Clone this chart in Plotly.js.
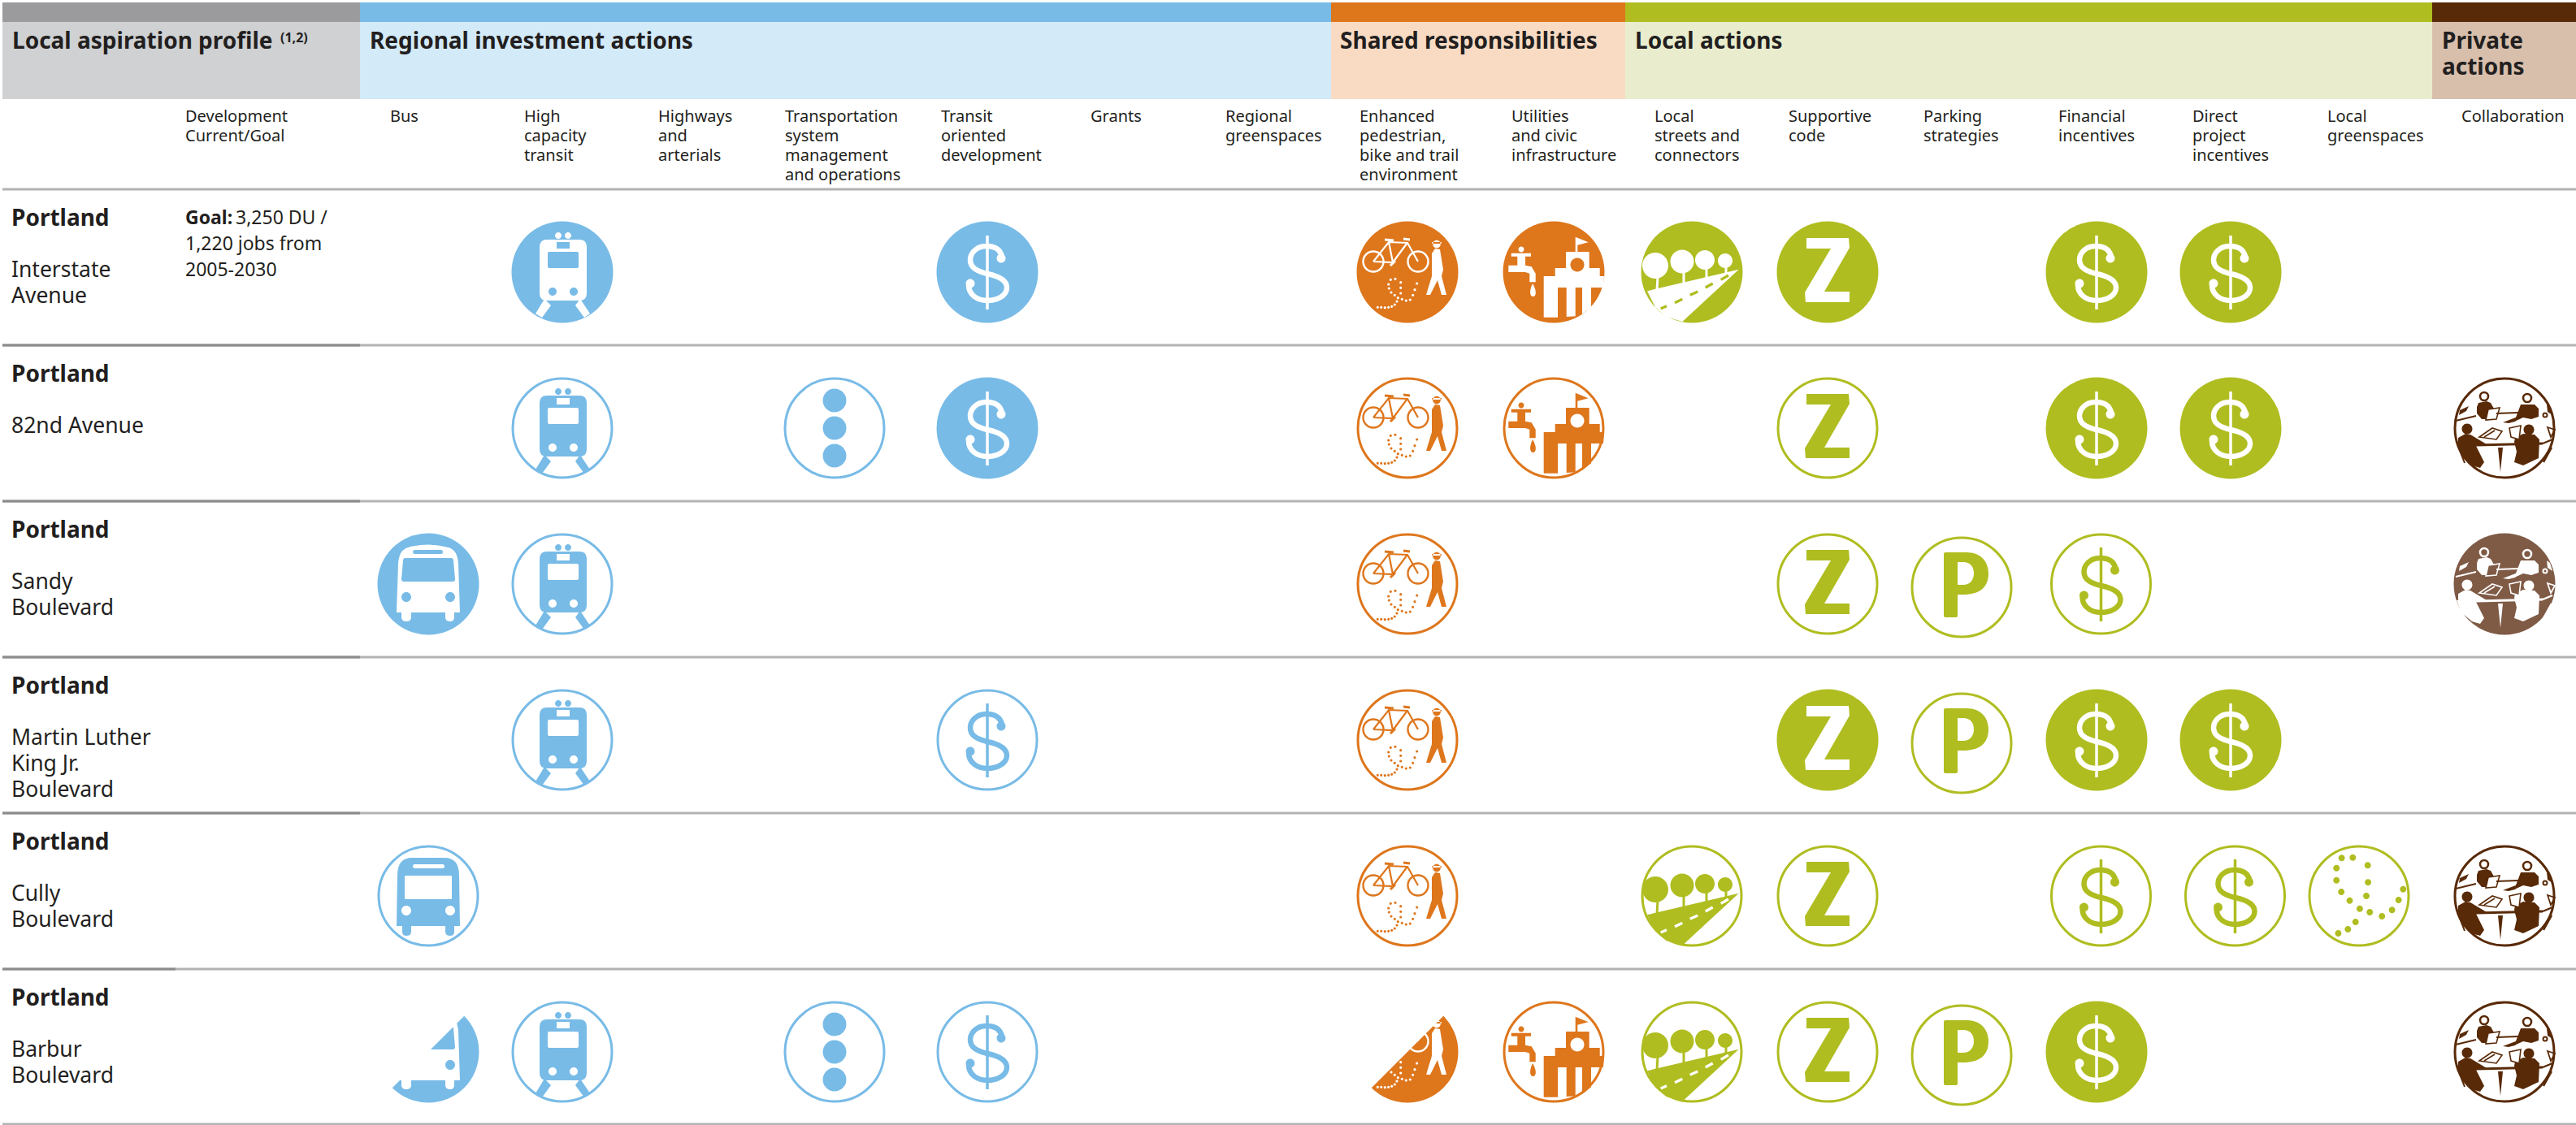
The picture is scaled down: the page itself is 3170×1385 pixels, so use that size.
<!DOCTYPE html>
<html><head><meta charset="utf-8">
<script src="https://cdn.plot.ly/plotly-3.0.1.min.js"></script>
<style>html,body{margin:0;padding:0;background:#fff}#c{width:3170px;height:1385px}</style>
</head><body><div id="c"></div>
<script>
// ---------- DATA ----------
const sectionTitles = [["Local aspiration profile"],["Regional investment actions"],["Shared responsibilities"],["Local actions"],["Private","actions"]];
const footnoteMark = "(1,2)";
const profileLabel = ["Development","Current/Goal"];
const actionLabels = [["Bus"],["High","capacity","transit"],["Highways","and","arterials"],["Transportation","system","management","and operations"],["Transit","oriented","development"],["Grants"],["Regional","greenspaces"],["Enhanced","pedestrian,","bike and trail","environment"],["Utilities","and civic","infrastructure"],["Local","streets and","connectors"],["Supportive","code"],["Parking","strategies"],["Financial","incentives"],["Direct","project","incentives"],["Local","greenspaces"],["Collaboration"]];
const cityNames = ["Portland","Portland","Portland","Portland","Portland","Portland"];
const corridorNames = [["Interstate","Avenue"],["82nd Avenue"],["Sandy","Boulevard"],["Martin Luther","King Jr.","Boulevard"],["Cully","Boulevard"],["Barbur","Boulevard"]];
const goalLead = "Goal:";
const goalLines = ["3,250 DU /","1,220 jobs from","2005-2030"];
// action status per corridor: 0 none, 1 outline, 2 solid, 3 part solid, 4 muted solid
const interstateAvenue = [0,2,0,0,2,0,0,2,2,2,2,0,2,2,0,0];
const avenue82nd       = [0,1,0,1,2,0,0,1,1,0,1,0,2,2,0,1];
const sandyBoulevard   = [2,1,0,0,0,0,0,1,0,0,1,1,1,0,0,4];
const mlkBoulevard     = [0,1,0,0,1,0,0,1,0,0,2,1,2,2,0,0];
const cullyBoulevard   = [1,0,0,0,0,0,0,1,0,1,1,0,1,1,1,1];
const barburBoulevard  = [3,1,0,1,1,0,0,3,1,1,1,1,2,0,0,1];
const statusRows = [interstateAvenue,avenue82nd,sandyBoulevard,mlkBoulevard,cullyBoulevard,barburBoulevard];

// ---------- LAYOUT / STYLE ----------
const W=3170,H=1385,INK="#231f20";
const sectionEdges=[3,443,1638,2000,2993,3170];
const sectionDark=["#9b9b9e","#78bbe7","#de761c","#afbd20","#592a08"];
const sectionLight=["#cfd1d3","#d3eaf9","#f9dbc3","#e9edcd","#d8bfac"];
const sectionText=[15,455,1649,2012,3005];
const actionTextX=[480,645,810,966,1158,1342,1508,1673,1860,2036,2201,2367,2533,2698,2864,3029];
const iconX=[527,692,858,1027,1215,1380,1545,1732,1912,2082,2249,2414,2580,2745,2903,3082];
const iconY=[335,527,719,911,1103,1295];
const rowTop=[233,425,617,809,1001,1193,1384];
const darkRuleEnd=[0,443,443,443,443,216,0];
const columnFamily=[1,1,1,1,1,1,1,2,2,3,3,3,3,3,3,4];
const glyphNames=["bus","train",null,"dots","dollar",null,null,"ped","util","streets","z","p","dollar","dollar","greens","collab"];

// ---------- GLYPH HELPERS (unit-cell drawings, px around icon centre) ----------
const circ=(x,y,r)=>{const k=r*.5523;return `M${x-r} ${y}C${x-r} ${y-k} ${x-k} ${y-r} ${x} ${y-r}C${x+k} ${y-r} ${x+r} ${y-k} ${x+r} ${y}C${x+r} ${y+k} ${x+k} ${y+r} ${x} ${y+r}C${x-k} ${y+r} ${x-r} ${y+k} ${x-r} ${y}Z`;};
const rr=(a,b,c,d,r)=>`M${a+r} ${b}L${c-r} ${b}Q${c} ${b} ${c} ${b+r}L${c} ${d-r}Q${c} ${d} ${c-r} ${d}L${a+r} ${d}Q${a} ${d} ${a} ${d-r}L${a} ${b+r}Q${a} ${b} ${a+r} ${b}Z`;
const poly=p=>"M"+p.map(q=>q.join(" ")).join("L")+"Z";
const line=p=>"M"+p.map(q=>q.join(" ")).join("L");
const dots=(p,r)=>p.map(q=>circ(q[0],q[1],r)).join("");
const fromPx=(p,cx,cy,sx,sy)=>p.map(q=>[+((q[0]-cx)/sx).toFixed(1),+((q[1]-cy)/sy).toFixed(1)]);
const F=(role,d)=>({role,d});               // fill
const S=(role,d,w)=>({role,d,w});           // stroke

const busBody="M-39 35L-37 -25Q-36 -42 -25 -45Q0 -52 25 -45Q36 -42 37 -25L39 35L32 35L32 41Q32 46 27 46Q21 46 21 41L21 35L-21 35L-21 41Q-21 46 -27 46Q-33 46 -33 41L-33 35Z";
const busOutBody="M-39 37L-38 -25Q-38 -47 -20 -47L20 -47Q38 -47 38 -25L39 37L32 37L32 44Q32 49 27 49Q21 49 21 44L21 37L-21 37L-21 44Q-21 49 -27 49Q-32 49 -32 44L-32 37Z";
const dollarS="M18 -19C16 -28 9 -32 -1 -32C-14 -32 -21 -23 -21 -15C-21 -5 -12 -1 0 2C14 5 24 10 24 19C24 29 12 35 0 35C-12 35 -23 28 -23 16";

const lapTop=[[-20,-23],[-6,-25],[-10,-11],[-23,-10]];
const deskPage=[[6,0],[20,-3],[18,14],[8,11]];
const sidePage=[[53,-1],[62,2],[57,11]];
const GLYPHS={
 bus:[F("ink",busBody),F("paper","M-28 -32L28 -32Q31 -32 31 -29L33 -6Q33 -3 30 -3L-30 -3Q-33 -3 -33 -6L-31 -29Q-31 -32 -28 -32Z"),F("paper",rr(-19,-42,18,-37,2.5)),F("paper",circ(-27,16,6)+circ(27,16,6))],
 busOut:[F("ink",busOutBody),F("paper",rr(-29,-25,29,4,1)),F("paper",rr(-19,-39,20,-34,2.5)),F("paper",circ(-27,18,6)+circ(27,18,6))],
 train:[F("ink",rr(-28,-40,30,35,9)),F("ink",circ(-5,-45,4)+circ(7,-45,4)),F("paper",poly([[-7,-37],[9,-37],[9,-29],[-7,-29]])),F("paper",rr(-18,-25,20,-5,2)),F("paper",circ(-12,24,5)+circ(14,24,5)),
   F("ink",poly([[-22,33],[-14,41],[-25,56],[-33,51]])+poly([[22,33],[16,41],[27,56],[34,51]]))],
 dots:[F("ink",dots([[0,-34],[0,0],[0,34]],14.5))],
 dollar:[S("ink",dollarS,6.5),S("ink","M0 -45L0 46",3.5),F("ink",circ(17,-17,5.5)+circ(-21,14,5.5))],
 z:[F("ink",poly([[-26,-42],[26,-42],[27,-30],[-4,24],[27,24],[27,37],[-27,37],[-28,25],[4,-29],[-26,-29]]))],
 p:[F("ink","M-22 -41Q-22 -43 -20 -43L6 -43C24 -43 33 -31 33 -17C33 0 22 9 2 9L-5 9L-5 35Q-5 37 -8 37L-20 37Q-22 37 -22 35ZM-5 -31L-5 -3L2 -3C10 -3 15 -9 15 -17C15 -26 10 -31 2 -31Z")],
 ped:[S("ink",circ(-42,-13,12.5)+circ(13,-13,12.5),2.4),
   S("ink",line([[-42,-13],[-23,-37],[0,-36],[13,-13]])+line([[-23,-37],[-18,-12],[-42,-13]])+line([[-18,-12],[-1,-35]]),2.2),
   S("ink",line([[-28,-40],[-17,-39]])+line([[-5,-41],[3,-40]])+line([[-21,-8],[-15,-14]]),3),
   F("ink",circ(36,-34.5,4.8)+rr(30,-37,42,-35,1)),
   F("ink",poly([[30,-23],[34,-29],[40,-28],[44,-3],[42,5],[48,28],[42,28],[37,10],[28,28],[23,28],[30,5]])),
   F("ink",dots(fromPx([[165,350],[178,350],[192,351],[205,350],[217,347],[228,340],[236,328],[240,315],[228,305],[215,295],[207,280],[205,265],[213,248],[230,245],[250,258],[250,278],[250,298],[255,320],[270,325],[285,322],[295,305],[302,285],[310,262]],275,220,3,3),1.6))],
 util:[F("ink",poly(fromPx([[660,725],[733,725],[733,737],[712,737],[712,770],[735,775],[750,800],[750,832],[728,832],[728,800],[712,795],[650,795],[650,770],[683,770],[683,737],[660,737]],817,795,3,3))),
   F("ink",circ(-40,-28,3.5)),
   F("ink","M-26 14C-30 22 -30 30 -25.5 30C-21 30 -21 22 -26 14Z"),
   F("ink",poly(fromPx([[897,720],[897,665],[945,685],[905,695],[905,720],[948,720],[948,780],[987,780],[987,810],[1003,810],[1000,852],[955,852],[955,925],[922,950],[922,852],[897,852],[897,958],[864,960],[864,852],[832,852],[832,962],[780,962],[780,810],[822,810],[822,780],[862,780],[862,720]],817,795,3,3))),
   F("paper",circ(29,-9,8.5))],
 streets:[F("ink",circ(-45,-8,16)+circ(-12,-13,14.5)+circ(16,-15,12)+circ(41,-14,9)),
   S("ink",line([[-42,5],[-43,22]])+line([[-10,0],[-10,13]])+line([[18,-4],[18,7]])+line([[42,-6],[42,2]]),3),
   F("ink",poly(fromPx([[1160,290],[1498,210],[1290,403],[1230,385],[1190,350]],1325,220,3,3))),
   S("paper",line(fromPx([[1210,355],[1232,345]],1325,220,3,3))+line(fromPx([[1262,333],[1290,320]],1325,220,3,3))+line(fromPx([[1318,305],[1347,292]],1325,220,3,3))+line(fromPx([[1375,277],[1402,262]],1325,220,3,3))+line(fromPx([[1432,248],[1460,232]],1325,220,3,3)),3.2)],
 greens:[F("ink",dots(fromPx([[893,80],[925,78],[968,107],[878,117],[878,162],[969,170],[892,205],[964,220],[916,237],[945,267],[974,280],[1009,295],[1038,272],[1057,235],[1070,195],[933,316],[911,343],[883,358]],943,220,2.34,3),4))],
 collab:[S("ink",circ(-25,-39,5)+circ(28,-37,5),2.6),
   F("ink",poly([[-34,-26],[-32,-31],[-22,-33],[-17,-31],[-13,-24],[-20,-23],[-21,-11],[-28,-11],[-34,-18]])),
   F("paper",poly(lapTop)),S("ink",poly(lapTop),1.6),
   F("ink",poly([[17,-21],[20,-29],[37,-29],[42,-24],[42,-14],[33,-11],[23,-13],[12,-8]])),
   S("ink",line([[-60,-9],[-35,-15]])+line([[-10,-18],[17,-19]]),2.2),
   F("ink",poly([[-2,-7],[19,-15],[13,-8],[5,-6]])),
   F("ink",circ(-46,1,6.5)+circ(30,2,6.5)),
   F("ink",poly([[-57,12],[-48,7],[-42,8],[-22,20],[-35,22],[-25,42],[-30,49],[-40,46],[-52,36],[-57,24]])),
   F("ink",poly([[13,12],[23,7],[37,8],[43,14],[42,37],[23,46],[12,42],[15,29],[12,17]])),
   S("ink",line([[-35,21],[47,19]]),3),
   F("ink",poly([[-8,24],[-2,24],[-5,54]])),
   S("ink",poly([[-31,11],[-15,0],[-3,4],[-10,14]])+line([[-25,11],[-12,3]]),1.6),
   F("paper",poly(deskPage)),S("ink",poly(deskPage),1.6),
   S("ink",circ(50,-16,2.5),2),
   F("ink",poly([[52,-29],[56,-26],[59,-16],[53,-20]])),
   F("ink",poly([[-55,-22],[-44,-27],[-47,-21],[-56,-16]])),
   S("ink",poly(sidePage),1.8),
   S("ink",line([[47,19],[59,14]])+line([[58,24],[48,42]]),2.4),
   S("ink",line([[-58,20],[-49,43]]),2)]
};
const partMask=poly([[48,-48],[-48,48],[-74,20],[-74,-74],[20,-74]]);

function shift(d,cx,cy){let i=0;return d.replace(/-?\d+(\.\d+)?/g,m=>{const v=parseFloat(m)+(i++%2?cy:cx);return v.toFixed(2);});}

// ---------- BUILD ----------
const shapes=[],annotations=[];
const rect=(x0,y0,x1,y1,c)=>shapes.push({type:"rect",xref:"x",yref:"y",x0,y0,x1,y1,fillcolor:c,line:{width:0},layer:"below"});
const txt=(x,y,text,size,bold,opts)=>annotations.push(Object.assign({xref:"x",yref:"y",x,y,text:bold?`<b>${text}</b>`:text,showarrow:false,xanchor:"left",yanchor:"middle",borderpad:0,borderwidth:0,font:{family:"'Noto Sans',sans-serif",size,color:INK}},opts||{}));

sectionTitles.forEach((lines,i)=>{
  rect(sectionEdges[i],3,sectionEdges[i+1],27,sectionDark[i]);
  rect(sectionEdges[i],27,sectionEdges[i+1],122,sectionLight[i]);
  lines.forEach((t,k)=>txt(sectionText[i],49+k*32,t,28,true));
});
txt(345,46,footnoteMark,16,true);
profileLabel.forEach((t,k)=>txt(228,142+k*24,t,20,false));
actionLabels.forEach((lines,c)=>lines.forEach((t,k)=>txt(actionTextX[c],142+k*24,t,20,false)));

rowTop.forEach((y,i)=>{
  rect(3,y-1.5,W,y+1.5,"#b3b3b3");
  if(darkRuleEnd[i]) rect(3,y-1.5,darkRuleEnd[i],y+1.5,"#8c8c8c");
});
cityNames.forEach((t,r)=>{
  txt(14,rowTop[r]+33.5,t,28,true);
  corridorNames[r].forEach((n,k)=>txt(14,rowTop[r]+98+k*32,n,26.5,false));
});
txt(228,267,goalLead,23,true);
txt(290,267,goalLines[0],23,false);
txt(228,299,goalLines[1],23,false);
txt(228,331,goalLines[2],23,false);

const solidTraces={},outlineTraces={};
const push=(store,key,color,x,y)=>{(store[key]=store[key]||{color,x:[],y:[]});store[key].x.push(x);store[key].y.push(y);};
statusRows.forEach((row,r)=>row.forEach((st,c)=>{
  if(!st) return;
  const fam=columnFamily[c];
  let base=sectionDark[fam];
  const muted=st===4; if(muted) base="#7f5a45";
  let cx=iconX[c],cy=iconY[r];
  if(st===1&&(c===12||c===13)) cx+=5.5;
  if(c===11) cy+=4;
  if(st===1) push(outlineTraces,fam,base,cx,cy); else push(solidTraces,base,base,cx,cy);
  let name=glyphNames[c];
  if(name==="bus"&&st===1) name="busOut";
  const ink=st===1?base:"#ffffff", paper=st===1?"#ffffff":base;
  GLYPHS[name].forEach(g=>{
    const color=g.role==="ink"?ink:paper, path=shift(g.d,cx,cy);
    shapes.push(g.w?{type:"path",xref:"x",yref:"y",path,fillcolor:"rgba(0,0,0,0)",line:{color,width:g.w},layer:"above"}
                   :{type:"path",xref:"x",yref:"y",path,fillcolor:color,line:{width:0},layer:"above"});
  });
  if(st===3) shapes.push({type:"path",xref:"x",yref:"y",path:shift(partMask,cx,cy),fillcolor:"#ffffff",line:{width:0},layer:"above"});
}));

const traces=[];
Object.values(solidTraces).forEach(t=>traces.push({type:"scatter",mode:"markers",x:t.x,y:t.y,hoverinfo:"skip",marker:{symbol:"circle",size:125,color:t.color,line:{width:0}}}));
Object.values(outlineTraces).forEach(t=>traces.push({type:"scatter",mode:"markers",x:t.x,y:t.y,hoverinfo:"skip",marker:{symbol:"circle",size:122,color:"#ffffff",line:{color:t.color,width:3}}}));

Plotly.newPlot("c",traces,{
  width:W,height:H,margin:{l:0,r:0,t:0,b:0,pad:0},showlegend:false,
  paper_bgcolor:"#fff",plot_bgcolor:"#fff",
  xaxis:{range:[0,W],visible:false,fixedrange:true},
  yaxis:{range:[H,0],visible:false,fixedrange:true},
  shapes,annotations
},{displayModeBar:false,responsive:false});
</script></body></html>
